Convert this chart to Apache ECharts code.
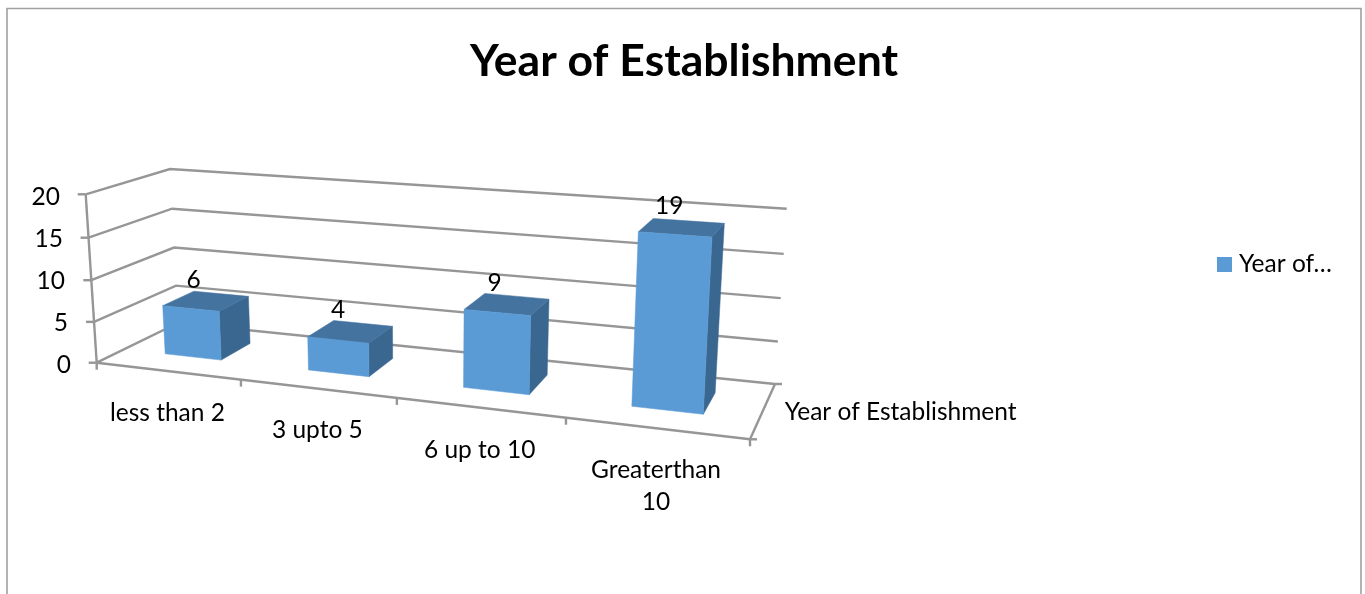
<!DOCTYPE html>
<html>
<head>
<meta charset="utf-8">
<style>html,body{margin:0;padding:0;background:#fff}#c{width:1365px;height:594px}</style>
<script src="https://cdn.jsdelivr.net/npm/echarts@6/dist/echarts.min.js"></script>
</head>
<body>
<div id="c"></div>
<script>
const titleText = 'Year of Establishment';
const categories = ['less than 2', '3 upto 5', '6 up to 10', 'Greaterthan\n10'];
const values = [6, 4, 9, 19];
const yTicks = [0, 5, 10, 15, 20];
const seriesName = 'Year of Establishment';
const depthLabel = 'Year of Establishment';
const legendLabel = 'Year of…';

const FONT = 'Lato';
const LINE = '#969696';
const LABEL_SIZE = 24.5;
// Corners of the perspective box
const box = {
  f0l: [96.7, 362.7], f1l: [85.7, 194.3], f0r: [750, 439.3], f1r: [760.7, 243],
  b0l: [178, 323], b1l: [170, 169], b0r: [775, 384], b1r: [786.7, 208.7]
};
const warp = (x, r) => x * r / ((1 - x) + x * r);
const mix = (a, b, t) => [a[0] + (b[0] - a[0]) * t, a[1] + (b[1] - a[1]) * t];
function project(u, v, d) {
  const U = warp(u, 0.85), V = warp(v, 0.96), D = warp(d, 1.2);
  const f = mix(mix(box.f0l, box.f1l, V), mix(box.f0r, box.f1r, V), U);
  const b = mix(mix(box.b0l, box.b1l, V), mix(box.b0r, box.b1r, V), U);
  return mix(f, b, D);
}
const norm = (pt, cs) => [(pt[0] - cs.x) / cs.width, (cs.y + cs.height - pt[1]) / cs.height];
const stroke = { stroke: LINE, lineWidth: 2.4, fill: null };
const line = pts => ({ type: 'polyline', shape: { points: pts }, style: stroke, silent: true });
const label = (text, x, y, size, align, vAlign) => ({
  type: 'text', silent: true,
  style: { text, x, y, fill: '#000', fontFamily: FONT, fontSize: size, align, verticalAlign: vAlign, textAlign: align, textVerticalAlign: vAlign, lineHeight: 32 }
});

function renderGrid(params, api) {
  const v = norm(api.coord([0, api.value(1)]), params.coordSys)[1];
  const a = project(0, v, 0), b = project(0, v, 1), c = project(1, v, 1);
  return { type: 'group', children: [line([a, b, c]), line([[a[0] - 8, a[1]], a])] };
}
function renderFloor(params, api) {
  const cs = params.coordSys, i = api.value(0);
  const band = api.size([1, 0])[0] / cs.width;
  const uc = norm(api.coord([i, 0]), cs)[0];
  const children = [];
  const tick = u => { const p = project(u, 0, 0); return line([p, [p[0], p[1] + 7]]); };
  if (i === 0) {
    children.push(line([project(0, 0, 0), project(1, 0, 0)]));
    children.push(line([project(0, 0, 0), project(0, 1, 0)]));
    children.push(line([project(1, 0, 0), project(1, 0, 1)]));
    const fr = project(1, 0, 0), br = project(1, 0, 1);
    children.push(line([fr, [fr[0] + 7, fr[1]]]));
    children.push(line([br, [br[0] + 7, br[1]]]));
    children.push(tick(0));
    const m = project(1, 0, 0.5);
    children.push(label(depthLabel, m[0] + 21, m[1] + 3, LABEL_SIZE, 'left', 'middle'));
  }
  children.push(tick(uc + band / 2));
  const p = project(uc, 0, 0);
  children.push(label(categories[i], p[0], p[1] + 26, LABEL_SIZE, 'center', 'top'));
  return { type: 'group', children };
}
function renderBar(params, api) {
  const cs = params.coordSys;
  const band = api.size([1, 0])[0] / cs.width;
  const val = api.value(1);
  const [uc, v] = norm(api.coord([api.value(0), val]), cs);
  const u0 = uc - band * 0.2, u1 = uc + band * 0.2, d0 = 0.3, d1 = 0.7;
  const P = project;
  const poly = (points, fill) => ({ type: 'polygon', shape: { points }, style: { fill, stroke: fill, lineWidth: 0.5 } });
  const top = P(u0, v, d0), back = P(u1, v, d1);
  const cx = (top[0] + back[0]) / 2, cy = (top[1] + back[1]) / 2;
  return { type: 'group', children: [
    poly([P(u1, 0, d0), P(u1, 0, d1), P(u1, v, d1), P(u1, v, d0)], '#3A678F'),
    poly([P(u0, v, d0), P(u1, v, d0), P(u1, v, d1), P(u0, v, d1)], '#44739F'),
    poly([P(u0, 0, d0), P(u1, 0, d0), P(u1, v, d0), P(u0, v, d0)], '#5B9BD5'),
    label(String(val), cx - 12, cy - 21, LABEL_SIZE, 'center', 'middle')
  ] };
}

const chart = echarts.init(document.getElementById('c'), null, { renderer: 'canvas' });
chart.setOption({
  animation: false,
  backgroundColor: '#fff',
  title: {
    text: titleText, left: 679, top: 34, textAlign: 'center',
    textStyle: { fontFamily: FONT, fontWeight: 'bold', fontSize: 44.5, color: '#000' }
  },
  legend: {
    left: 1212, top: 247, icon: 'rect', itemWidth: 15, itemHeight: 15, itemGap: 0,
    data: [seriesName], formatter: () => legendLabel,
    selectedMode: false,
    textStyle: { fontFamily: FONT, fontSize: LABEL_SIZE, color: '#000', padding: [0, 0, 0, 2] }
  },
  grid: { left: 85, top: 197, width: 665, height: 168, containLabel: false },
  xAxis: { type: 'category', data: categories, axisLine: { show: false }, axisTick: { show: false }, axisLabel: { show: false } },
  yAxis: {
    type: 'value', min: 0, max: 20, interval: 5,
    axisLine: { show: false }, axisTick: { show: false }, splitLine: { show: false },
    axisLabel: {
      margin: 14, fontFamily: FONT, fontSize: LABEL_SIZE, color: '#000',
      formatter: v => `{p${v}|${v}}`,
      rich: {
        p0: { padding: [0, 0, 0, 0] }, p5: { padding: [0, 3, 0, 0] }, p10: { padding: [0, 6, 0, 0] },
        p15: { padding: [0, 8, 0, 0] }, p20: { padding: [0, 11, 0, 0] }
      }
    }
  },
  graphic: [{
    type: 'polyline', silent: true, z: 0,
    shape: { points: [[7, 594], [7, 8.5], [1361, 8.5], [1361, 594]] },
    style: { stroke: '#A0A0A0', lineWidth: 1.6, fill: null }
  }],
  series: [
    { type: 'custom', name: 'gridlines', z: 1, coordinateSystem: 'cartesian2d', renderItem: renderGrid, encode: { x: 0, y: 1 }, data: yTicks.map(t => [0, t]), silent: true },
    { type: 'custom', name: 'floor', z: 1, coordinateSystem: 'cartesian2d', renderItem: renderFloor, encode: { x: 0, y: 1 }, data: categories.map((c, i) => [i, 0]), silent: true },
    { type: 'custom', name: seriesName, z: 2, coordinateSystem: 'cartesian2d', renderItem: renderBar, encode: { x: 0, y: 1 }, itemStyle: { color: '#5B9BD5' }, data: values.map((v, i) => [i, v]) }
  ]
});
</script>
</body>
</html>
